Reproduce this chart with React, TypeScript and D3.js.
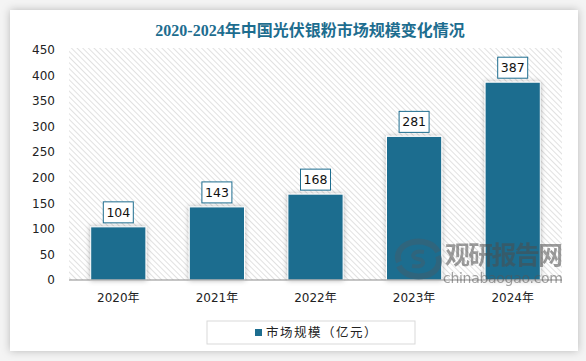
import { useRef, useEffect } from 'react';
import * as d3 from 'd3';

// chart data
const years = ['2020年', '2021年', '2022年', '2023年', '2024年'];
const marketSize = [104, 143, 168, 281, 387];
const yTicks = [0, 50, 100, 150, 200, 250, 300, 350, 400, 450];
const seriesName = '市场规模（亿元）';
const title = '2020-2024年中国光伏银粉市场规模变化情况';

const W = 586;
const H = 361;
const TEAL = '#1d6d8f';

const App = () => {
  const svgRef = useRef<SVGSVGElement>(null);

  useEffect(() => {
    const svg = d3.select(svgRef.current);
    svg.selectAll('*').remove();

    const defs = svg.append('defs');
    const hatch = defs.append('pattern')
      .attr('id', 'hatch')
      .attr('patternUnits', 'userSpaceOnUse')
      .attr('width', 4)
      .attr('height', 4)
      .attr('patternTransform', 'rotate(-45)');
    hatch.append('rect').attr('width', 4).attr('height', 4).attr('fill', '#fff');
    hatch.append('line')
      .attr('x1', 0).attr('y1', 0).attr('x2', 0).attr('y2', 4)
      .attr('stroke', '#d2d2d2').attr('stroke-width', 1.3);

    const cardShadow = defs.append('filter').attr('id', 'cardShadow')
      .attr('x', '-5%').attr('y', '-5%').attr('width', '110%').attr('height', '110%');
    cardShadow.append('feDropShadow')
      .attr('dx', 0).attr('dy', 0).attr('stdDeviation', 4)
      .attr('flood-color', '#000').attr('flood-opacity', 0.25);

    const barShadow = defs.append('filter').attr('id', 'barShadow')
      .attr('x', '-30%').attr('y', '-10%').attr('width', '160%').attr('height', '120%');
    barShadow.append('feDropShadow')
      .attr('dx', 0).attr('dy', 0).attr('stdDeviation', 2.5)
      .attr('flood-color', '#000').attr('flood-opacity', 0.3);

    // page background + card
    svg.append('rect').attr('width', W).attr('height', H).attr('fill', '#f4f4f4');
    svg.append('rect')
      .attr('x', 10).attr('y', 10).attr('width', 568).attr('height', 341)
      .attr('fill', '#fff').attr('filter', 'url(#cardShadow)');

    svg.append('text')
      .attr('x', 310).attr('y', 36)
      .attr('text-anchor', 'middle')
      .attr('font-family', '"Liberation Serif", "Noto Sans CJK SC", serif')
      .attr('font-weight', 'bold')
      .attr('font-size', 16)
      .attr('fill', TEAL)
      .text(title);

    const left = 69, right = 562, top = 50, bottom = 280;

    const x = d3.scaleBand().domain(years).range([left, right]).paddingInner(0.44).paddingOuter(0.22);
    const y = d3.scaleLinear().domain([0, 450]).range([bottom, top]);

    svg.append('rect')
      .attr('x', left).attr('y', top - 2)
      .attr('width', right - left).attr('height', bottom - top + 2)
      .attr('fill', 'url(#hatch)');

    const font = '"DejaVu Sans", "Noto Sans CJK SC", sans-serif';

    // y axis labels
    svg.append('g').selectAll('text')
      .data(yTicks).enter().append('text')
      .attr('x', 55).attr('y', d => y(d))
      .attr('dy', '0.35em')
      .attr('text-anchor', 'end')
      .attr('font-family', font).attr('font-size', 12)
      .attr('fill', '#222')
      .text(d => d);

    // bars
    svg.append('g').selectAll('rect')
      .data(marketSize).enter().append('rect')
      .attr('x', (d, i) => x(years[i])!)
      .attr('y', d => y(d))
      .attr('width', x.bandwidth())
      .attr('height', d => bottom - y(d))
      .attr('fill', TEAL)
      .attr('stroke', '#fff').attr('stroke-width', 1)
      .attr('filter', 'url(#barShadow)');

    // value labels
    const labels = svg.append('g').selectAll('g')
      .data(marketSize).enter().append('g')
      .attr('transform', (d, i) => `translate(${x(years[i])! + x.bandwidth() / 2},${y(d) - 15})`);
    labels.append('rect')
      .attr('x', -15).attr('y', -10).attr('width', 30).attr('height', 21)
      .attr('fill', '#fff').attr('stroke', TEAL).attr('stroke-width', 1);
    labels.append('text')
      .attr('text-anchor', 'middle').attr('dy', '0.38em')
      .attr('font-family', font).attr('font-size', 12.5)
      .attr('fill', '#111')
      .text(d => d);

    // x axis
    svg.append('line')
      .attr('x1', left).attr('x2', right).attr('y1', bottom).attr('y2', bottom)
      .attr('stroke', '#8c8c8c').attr('stroke-width', 1.2);
    svg.append('g').selectAll('text')
      .data(years).enter().append('text')
      .attr('x', d => x(d)! + x.bandwidth() / 2)
      .attr('y', 298)
      .attr('dy', '0.35em')
      .attr('text-anchor', 'middle')
      .attr('font-family', font).attr('font-size', 12)
      .attr('fill', '#222')
      .text(d => d);

    // watermark
    const wm = svg.append('g').attr('opacity', 0.55);
    wm.append('path')
      .attr('d', 'M399,262 A20,15 0 0 1 438,252')
      .attr('fill', 'none').attr('stroke', '#3f5f70').attr('stroke-width', 6);
    wm.append('path')
      .attr('d', 'M438,256 A20,15 0 0 1 399,266')
      .attr('fill', 'none').attr('stroke', '#3f5f70').attr('stroke-width', 6);
    wm.append('path')
      .attr('d', 'M424,252 C412,250 410,258 418,259 C426,260 425,268 412,266')
      .attr('fill', 'none').attr('stroke', '#3f5f70').attr('stroke-width', 4);
    wm.append('text')
      .attr('x', 445).attr('y', 264)
      .attr('font-family', '"Noto Sans CJK SC", sans-serif')
      .attr('font-weight', 'bold').attr('font-size', 25)
      .attr('fill', '#4d4d4d')
      .attr('textLength', 118)
      .text('观研报告网');
    wm.append('text')
      .attr('x', 443).attr('y', 283)
      .attr('font-family', '"DejaVu Sans", sans-serif')
      .attr('font-size', 14)
      .attr('fill', '#555')
      .attr('textLength', 120)
      .text('chinabaogao.com');

    // legend
    svg.append('rect')
      .attr('x', 207).attr('y', 321).attr('width', 208).attr('height', 23)
      .attr('fill', '#fff').attr('stroke', '#d9d9d9').attr('stroke-width', 1);
    svg.append('rect')
      .attr('x', 255).attr('y', 329).attr('width', 7).attr('height', 7)
      .attr('fill', TEAL);
    svg.append('text')
      .attr('x', 266).attr('y', 333)
      .attr('dy', '0.35em')
      .attr('font-family', font).attr('font-size', 12.5)
      .attr('letter-spacing', 1.5)
      .attr('fill', '#222')
      .text(seriesName);
  }, []);

  return (
    <svg ref={svgRef} width={W} height={H} style={{ position: 'absolute', left: 0, top: 0 }} />
  );
};

export default App;
